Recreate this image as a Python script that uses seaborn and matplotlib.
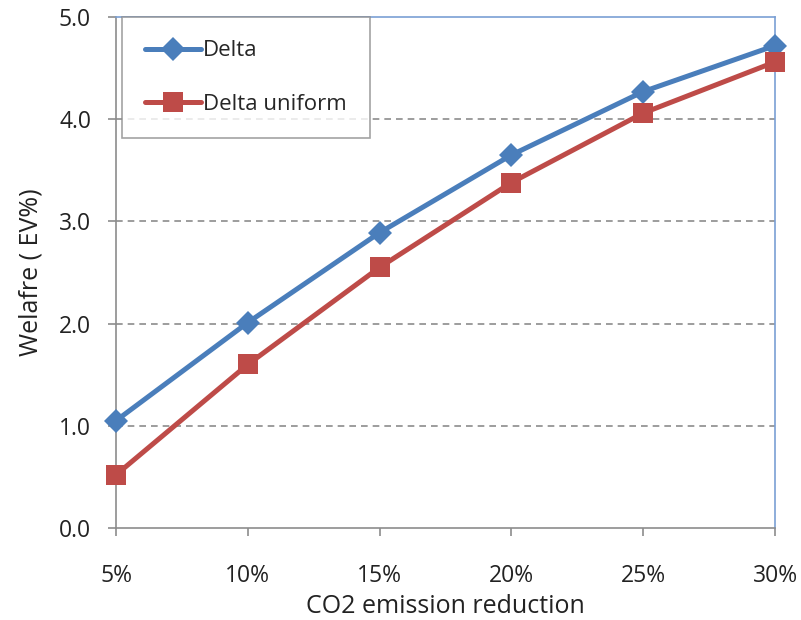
import matplotlib
matplotlib.use("Agg")
import matplotlib.pyplot as plt
import seaborn as sns
import pandas as pd

categories = ["5%", "10%", "15%", "20%", "25%", "30%"]
delta = [1.05, 2.01, 2.89, 3.65, 4.27, 4.72]
delta_uniform = [0.52, 1.60, 2.55, 3.38, 4.06, 4.56]
y_ticks = [0.0, 1.0, 2.0, 3.0, 4.0, 5.0]

sns.set_theme(style="white")
plt.rcParams["font.family"] = ["Open Sans", "DejaVu Sans"]

df = pd.DataFrame({
    "reduction": categories * 2,
    "welfare": delta + delta_uniform,
    "series": ["Delta"] * len(categories) + ["Delta uniform"] * len(categories),
})

fig = plt.figure(figsize=(8.01, 6.20), dpi=100)
ax = fig.add_axes([116 / 801, 1 - 528 / 620, (775 - 116) / 801, (528 - 17) / 620])

blue = "#4a7ebb"
red = "#be4b48"
sns.lineplot(data=df, x="reduction", y="welfare", hue="series", style="series",
             palette={"Delta": blue, "Delta uniform": red},
             markers={"Delta": "D", "Delta uniform": "s"},
             dashes=False, markersize=12, linewidth=3.6, markeredgewidth=0,
             sort=False, ax=ax, zorder=3)
ax.lines[1].set_markersize(14)

ax.set_xlim(0, len(categories) - 1)
ax.set_ylim(0, 5)
ax.set_yticks(y_ticks)
ax.set_yticklabels([f"{v:.1f}" for v in y_ticks])
for v in y_ticks[1:-1]:
    ax.axhline(v, color="#8c8c8c", linestyle=(0, (4, 3)), linewidth=1.2, zorder=1)

for side in ["top", "right"]:
    ax.spines[side].set_color("#7aa0d4")
    ax.spines[side].set_linewidth(1.2)
for side in ["left", "bottom"]:
    ax.spines[side].set_color("#8c8c8c")
    ax.spines[side].set_linewidth(1.2)

ax.tick_params(axis="both", which="major", direction="out", length=6, width=1.2,
               color="#8c8c8c", labelsize=16.5, labelcolor="#222222")
ax.tick_params(axis="x", pad=20)
ax.tick_params(axis="y", pad=12)
ax.xaxis.set_ticks_position("bottom")
ax.yaxis.set_ticks_position("left")

ax.set_xlabel("CO2 emission reduction", fontsize=18, color="#222222", labelpad=4)
ax.set_ylabel("Welafre ( EV%)", fontsize=18, color="#222222", labelpad=11)

for line in ax.lines[:2]:
    line.set_clip_on(False)

leg = ax.legend(loc="upper left", bbox_to_anchor=(6 / 659, 1.0), borderaxespad=0,
                frameon=True, fancybox=False, fontsize=16, handlelength=2.5,
                handletextpad=0.1, labelspacing=1.45, borderpad=1.05, title=None)
leg.get_frame().set_edgecolor("#8c8c8c")
leg.get_frame().set_linewidth(1.2)
for h, ms in zip(leg.legend_handles, [12, 14]):
    h.set_linewidth(3.6)
    h.set_markersize(ms)

fig.savefig("out.png", dpi=100)
